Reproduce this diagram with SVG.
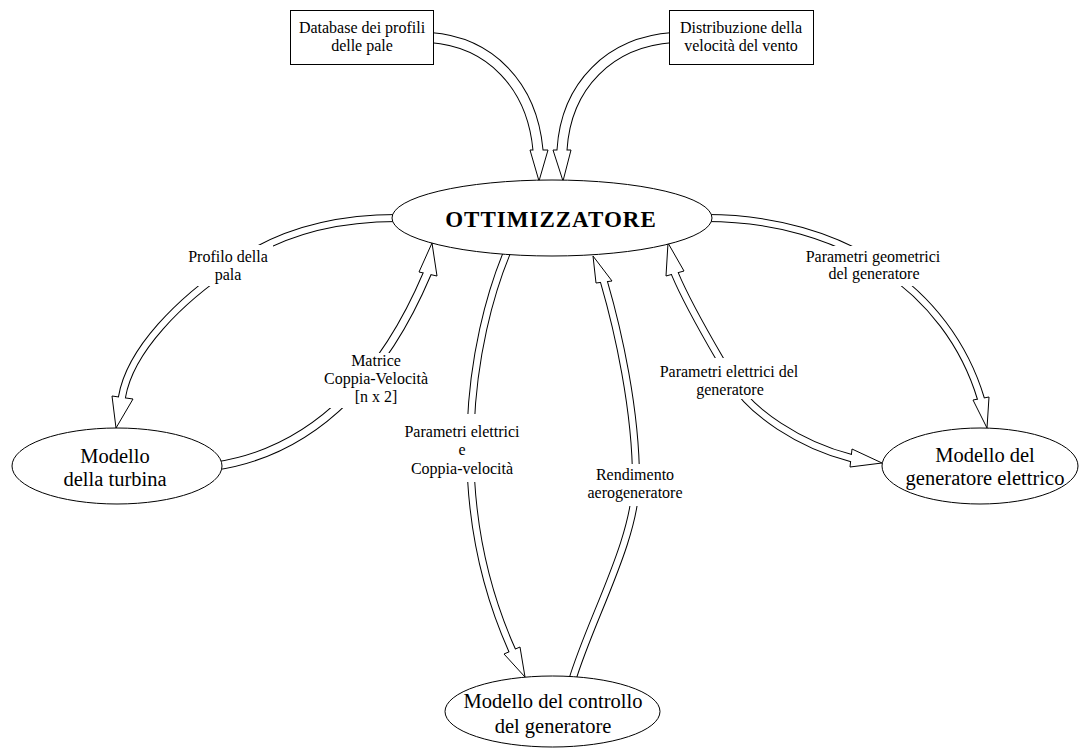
<svg xmlns="http://www.w3.org/2000/svg" width="1084" height="749" viewBox="0 0 1084 749">
<style>
.o{fill:none;stroke:#000;stroke-width:8;stroke-linecap:butt}
.i{fill:none;stroke:#fff;stroke-width:6;stroke-linecap:butt}
.o2{fill:none;stroke:#000;stroke-width:11;stroke-linecap:butt}
.i2{fill:none;stroke:#fff;stroke-width:9;stroke-linecap:butt}
.o3{fill:none;stroke:#000;stroke-width:9;stroke-linecap:butt}
.i3{fill:none;stroke:#fff;stroke-width:7;stroke-linecap:butt}
.h{fill:#fff;stroke:#000;stroke-width:1;stroke-linejoin:miter}
.gap{fill:#fff;stroke:none}
.node{fill:#fff;stroke:#000;stroke-width:1}
text{font-family:"Liberation Serif","Times New Roman",serif;fill:#000;text-anchor:middle}
.lbl{font-size:16px}
.nt{font-size:20.5px}
.bt{font-size:16px}
.big{font-size:23px;font-weight:bold;letter-spacing:1px}
</style>
<rect width="1084" height="749" fill="#fff"/>
<g id="connectors">
  <g id="c1">
    <path class="o2" d="M430,37.6 C490,42 532,85 538,150 l0.3,3"/>
    <polygon class="h" points="530,150 539,181 548,150"/>
    <path class="i2" d="M430,37.6 C490,42 532,85 538,150 l0.3,3"/>
  </g>
  <g id="c2">
    <path class="o2" d="M673,37.6 C610,42 566,85 562,150 l-0.2,3"/>
    <polygon class="h" points="553,150 563,181 571,150"/>
    <path class="i2" d="M673,37.6 C610,42 566,85 562,150 l-0.2,3"/>
  </g>
  <g id="c3">
    <path class="o" d="M397,218 C330,218 275,235 233,265 C180,300 130,350 122,397 l-0.4,3"/>
    <polygon class="h" points="112,396 116,428 133,399"/>
    <path class="i" d="M397,218 C330,218 275,235 233,265 C180,300 130,350 122,397 l-0.4,3"/>
    <rect class="gap" x="183" y="245" width="90" height="41"/>
    <text class="lbl" x="228" y="262">Profilo della</text>
    <text class="lbl" x="228" y="280">pala</text>
  </g>
  <g id="c4">
    <path class="o3" d="M216,466 C322,450 388,366 427,274 l1.2,-2.8"/>
    <polygon class="h" points="419,272 432,243 437,276"/>
    <path class="i3" d="M216,466 C322,450 388,366 427,274 l1.2,-2.8"/>
    <rect class="gap" x="322" y="353" width="106" height="55"/>
    <text class="lbl" x="376" y="366">Matrice</text>
    <text class="lbl" x="376" y="384">Coppia-Velocità</text>
    <text class="lbl" x="376" y="402">[n x 2]</text>
  </g>
  <g id="c5">
    <path class="o" d="M508,250 C470,340 445,500 512,650 l1.2,2.7"/>
    <polygon class="h" points="504,654 525,677 520,647"/>
    <path class="i" d="M508,250 C470,340 445,500 512,650 l1.2,2.7"/>
    <rect class="gap" x="400" y="414" width="124" height="68"/>
    <text class="lbl" x="462" y="437">Parametri elettrici</text>
    <text class="lbl" x="462" y="455">e</text>
    <text class="lbl" x="462" y="474">Coppia-velocità</text>
  </g>
  <g id="c6">
    <path class="o" d="M572,681 C590,620 636,540 636,480 C636,410 618,330 604,282 l-0.8,-2.9"/>
    <polygon class="h" points="596,283 593,256 612,281"/>
    <path class="i" d="M572,681 C590,620 636,540 636,480 C636,410 618,330 604,282 l-0.8,-2.9"/>
    <rect class="gap" x="584" y="464" width="102" height="42"/>
    <text class="lbl" x="635" y="480">Rendimento</text>
    <text class="lbl" x="635" y="498">aerogeneratore</text>
  </g>
  <g id="c7">
    <path class="o" d="M674,271 L675,274 C690,310 715,350 732,380 C750,412 800,445 851,458 l2.9,0.7"/>
    <polygon class="h" points="666,276 668,243 684,271"/>
    <polygon class="h" points="852,449 882,463 850,467"/>
    <path class="i" d="M674,271 L675,274 C690,310 715,350 732,380 C750,412 800,445 851,458 l2.9,0.7"/>
    <rect class="gap" x="655" y="358" width="148" height="41"/>
    <text class="lbl" x="729" y="377">Parametri elettrici del</text>
    <text class="lbl" x="730" y="395">generatore</text>
  </g>
  <g id="c8">
    <path class="o" d="M706,218 C842,218 948,289 981,399 l0.9,2.9"/>
    <polygon class="h" points="973,400 987,428 989,397"/>
    <path class="i" d="M706,218 C842,218 948,289 981,399 l0.9,2.9"/>
    <rect class="gap" x="800" y="246" width="146" height="40"/>
    <text class="lbl" x="873" y="262">Parametri geometrici</text>
    <text class="lbl" x="874" y="279">del generatore</text>
  </g>
</g>
<g id="n-database">
  <rect class="node" x="290.5" y="10.5" width="143" height="54"/>
  <text class="bt" x="362" y="33">Database dei profili</text>
  <text class="bt" x="362" y="51">delle pale</text>
</g>
<g id="n-vento">
  <rect class="node" x="669.5" y="10.5" width="144" height="54"/>
  <text class="bt" x="741" y="33">Distribuzione della</text>
  <text class="bt" x="741" y="51">velocità del vento</text>
</g>
<g id="n-ottimizzatore">
  <ellipse class="node" cx="552" cy="218" rx="160" ry="38"/>
  <text class="big" x="551" y="226.5">OTTIMIZZATORE</text>
</g>
<g id="n-turbina">
  <ellipse class="node" cx="117" cy="466" rx="105" ry="38"/>
  <text class="nt" x="115" y="463">Modello</text>
  <text class="nt" x="115" y="486">della turbina</text>
</g>
<g id="n-generatore">
  <ellipse class="node" cx="980" cy="466" rx="98" ry="38"/>
  <text class="nt" x="985" y="462">Modello del</text>
  <text class="nt" x="985" y="485">generatore elettrico</text>
</g>
<g id="n-controllo">
  <ellipse class="node" cx="552.5" cy="711.5" rx="107.5" ry="35.5"/>
  <text class="nt" x="553" y="708">Modello del controllo</text>
  <text class="nt" x="553" y="733">del generatore</text>
</g>
</svg>
